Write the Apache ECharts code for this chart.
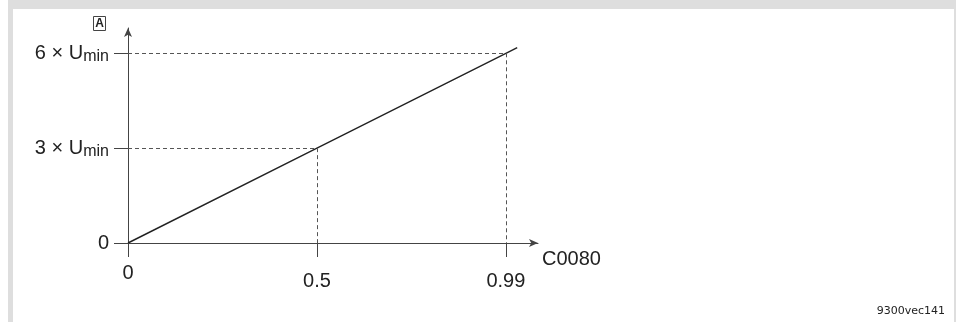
<!DOCTYPE html>
<html>
<head>
<meta charset="utf-8">
<script src="https://cdn.jsdelivr.net/npm/echarts@6/dist/echarts.min.js"></script>
<style>
  html, body { margin: 0; padding: 0; background: #fff; }
  #chart { width: 956px; height: 322px; }
</style>
</head>
<body>
<div id="chart"></div>
<script>
// x positions on the (schematic) C0080 axis and their labels
const xTickPos = [0, 0.5, 1];
const xTickLabels = ['0', '0.5', '0.99'];
// y ticks: multiples of U_min
const yTickPos = [0, 3, 6];
const yTickLabels = ['0', '3 × U', '6 × U'];
// the characteristic line (runs a bit past 0.99)
const lineX = [0, 0.5, 1, 1.03];
const lineY = [0, 3, 6, 6.18];
// helper guides: dashed lines to these points
const guideX = [0.5, 1];
const guideY = [3, 6];

const chart = echarts.init(document.getElementById('chart'));
const font = 'Liberation Sans, Arial, sans-serif';

const guides = [];
guideX.forEach((gx, i) => {
  guides.push([{ coord: [0, guideY[i]] }, { coord: [gx, guideY[i]] }]);
  guides.push([{ coord: [gx, guideY[i]] }, { coord: [gx, 0] }]);
});

const option = {
  animation: false,
  grid: { left: 128, top: 28, width: 410, height: 215 },
  xAxis: {
    type: 'value',
    min: 0,
    max: 1.085,
    name: 'C0080',
    nameLocation: 'end',
    nameGap: 4,
    nameTextStyle: { fontFamily: font, fontSize: 20, color: '#222', align: 'left', verticalAlign: 'top', padding: [6, 0, 0, 0] },
    splitLine: { show: false },
    axisLine: { show: true, symbol: ['none', 'arrow'], symbolSize: [6, 9], lineStyle: { color: '#444', width: 1 } },
    axisTick: { show: true, inside: false, length: 14, customValues: xTickPos, lineStyle: { color: '#444' } },
    axisLabel: {
      customValues: xTickPos,
      margin: 20,
      fontFamily: font,
      fontSize: 20,
      color: '#222',
      formatter: v => {
        const i = xTickPos.indexOf(v);
        if (i < 0) return '';
        return i === 0 ? '{a|' + xTickLabels[i] + '}' : '{b|' + xTickLabels[i] + '}';
      },
      rich: {
        a: { fontFamily: font, fontSize: 20, color: '#222' },
        b: { fontFamily: font, fontSize: 20, color: '#222', padding: [8, 0, 0, 0] }
      }
    }
  },
  yAxis: {
    type: 'value',
    min: 0,
    max: 6.8,
    splitLine: { show: false },
    axisLine: { show: true, symbol: ['none', 'arrow'], symbolSize: [6, 9], lineStyle: { color: '#444', width: 1 } },
    axisTick: { show: true, inside: false, length: 14, customValues: yTickPos, lineStyle: { color: '#444' } },
    axisLabel: {
      customValues: yTickPos,
      margin: 19,
      fontFamily: font,
      fontSize: 20,
      color: '#222',
      formatter: v => {
        const i = yTickPos.indexOf(v);
        if (i < 0) return '';
        return i === 0 ? '{n|0}' : '{n|' + yTickLabels[i] + '}{s|min}';
      },
      rich: {
        n: { fontFamily: font, fontSize: 20, color: '#222', lineHeight: 22 },
        s: { fontFamily: font, fontSize: 16, color: '#222', lineHeight: 22, padding: [7, 0, 0, 0] }
      }
    }
  },
  graphic: [
    { type: 'rect', shape: { x: 8, y: 0, width: 948, height: 9 }, style: { fill: '#dedede' }, silent: true },
    { type: 'rect', shape: { x: 8, y: 0, width: 5, height: 322 }, style: { fill: '#dedede' }, silent: true },
    { type: 'rect', shape: { x: 954, y: 0, width: 2, height: 322 }, style: { fill: '#dedede' }, silent: true },
    { type: 'rect', shape: { x: 93.5, y: 16.5, width: 12, height: 14 }, style: { fill: '#fff', stroke: '#444', lineWidth: 1 } },
    { type: 'text', x: 99.5, y: 24, style: { text: 'A', font: 'bold 12px Liberation Sans, Arial, sans-serif', fill: '#222', align: 'center', verticalAlign: 'middle' } },
    { type: 'text', right: 11, top: 306, style: { text: '9300vec141', font: '11px DejaVu Sans, sans-serif', fill: '#222' } }
  ],
  series: [
    {
      type: 'line',
      data: lineX.map((x, i) => [x, lineY[i]]),
      symbol: 'none',
      lineStyle: { color: '#222', width: 1.4 },
      markLine: {
        silent: true,
        symbol: ['none', 'none'],
        label: { show: false },
        lineStyle: { color: '#555', type: [4, 3], width: 1 },
        data: guides
      }
    }
  ]
};
chart.setOption(option);
</script>
</body>
</html>
